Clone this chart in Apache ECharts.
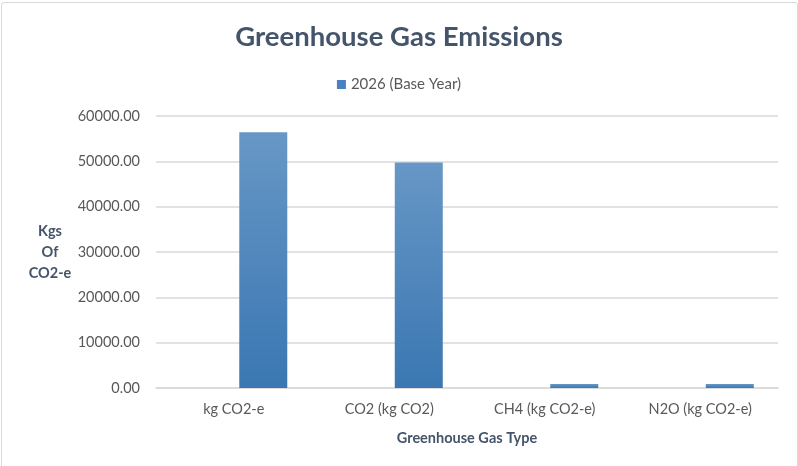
<!DOCTYPE html>
<html>
<head>
<meta charset="utf-8">
<script src="https://cdn.jsdelivr.net/npm/echarts@6/dist/echarts.min.js"></script>
<style>
  html, body { margin: 0; padding: 0; background: #fff; }
  #frame { position: absolute; left: 1px; top: 2px; width: 795px; height: 470px; border: 1px solid #d9d9d9; border-radius: 3px; }
  #chart { position: absolute; left: 0; top: 0; width: 798px; height: 466px; }
</style>
</head>
<body>
<div id="frame"></div>
<div id="chart"></div>
<script>
// data
var categories = ['kg CO2-e', 'CO2 (kg CO2)', 'CH4 (kg CO2-e)', 'N2O (kg CO2-e)'];
var baseYear = [56400, 49750, 880, 880];
var yTicks = { min: 0, max: 60000, interval: 10000 };

var myChart = echarts.init(document.getElementById('chart'));

var option = {
  animation: false,
  textStyle: { fontFamily: 'Lato' },
  title: {
    text: 'Greenhouse Gas Emissions',
    left: 'center',
    top: 18,
    textStyle: { fontFamily: 'Lato', fontSize: 27.5, fontWeight: 'bold', color: '#44546a' }
  },
  legend: {
    data: ['2026 (Base Year)'],
    top: 72,
    left: 'center',
    itemWidth: 9,
    itemHeight: 9,
    itemGap: 6,
    icon: 'rect',
    itemStyle: { color: '#4a82c0' },
    textStyle: { fontFamily: 'Lato', fontSize: 15, color: '#595959' }
  },
  grid: {
    left: 156,
    right: 20,
    top: 116,
    bottom: 78
  },
  xAxis: {
    type: 'category',
    data: categories,
    name: 'Greenhouse Gas Type',
    nameLocation: 'middle',
    nameGap: 43,
    nameTextStyle: { fontFamily: 'Lato', fontSize: 14.5, fontWeight: 'bold', color: '#44546a' },
    axisLine: { lineStyle: { color: '#d9d9d9', width: 1.5 } },
    axisTick: { show: false },
    axisLabel: { fontFamily: 'Lato', fontSize: 14.5, color: '#595959', margin: 14 }
  },
  yAxis: {
    type: 'value',
    min: yTicks.min,
    max: yTicks.max,
    interval: yTicks.interval,
    name: 'Kgs\nOf\nCO2-e',
    nameLocation: 'middle',
    nameRotate: 0,
    nameGap: 106,
    nameTextStyle: { fontFamily: 'Lato', fontSize: 14.5, fontWeight: 'bold', color: '#44546a', align: 'center', verticalAlign: 'middle', lineHeight: 21, padding: [7, 0, 0, 0] },
    axisLine: { show: false },
    axisTick: { show: false },
    splitLine: { lineStyle: { color: '#d9d9d9', width: 1.5 } },
    axisLabel: {
      fontFamily: 'Lato', fontSize: 14.5, color: '#595959', margin: 16,
      formatter: function (v) { return v.toFixed(2); }
    }
  },
  series: [{
    // empty companion series, keeps the bars on the right half of each slot
    name: 'blank',
    type: 'bar',
    barWidth: 48,
    barGap: '23%',
    data: [null, null, null, null]
  }, {
    name: '2026 (Base Year)',
    type: 'bar',
    barWidth: 48,
    itemStyle: {
      color: new echarts.graphic.LinearGradient(0, 0, 0, 1, [
        { offset: 0, color: '#6797c6' },
        { offset: 1, color: '#3a77b2' }
      ])
    },
    data: baseYear
  }]
};

myChart.setOption(option);
</script>
</body>
</html>
